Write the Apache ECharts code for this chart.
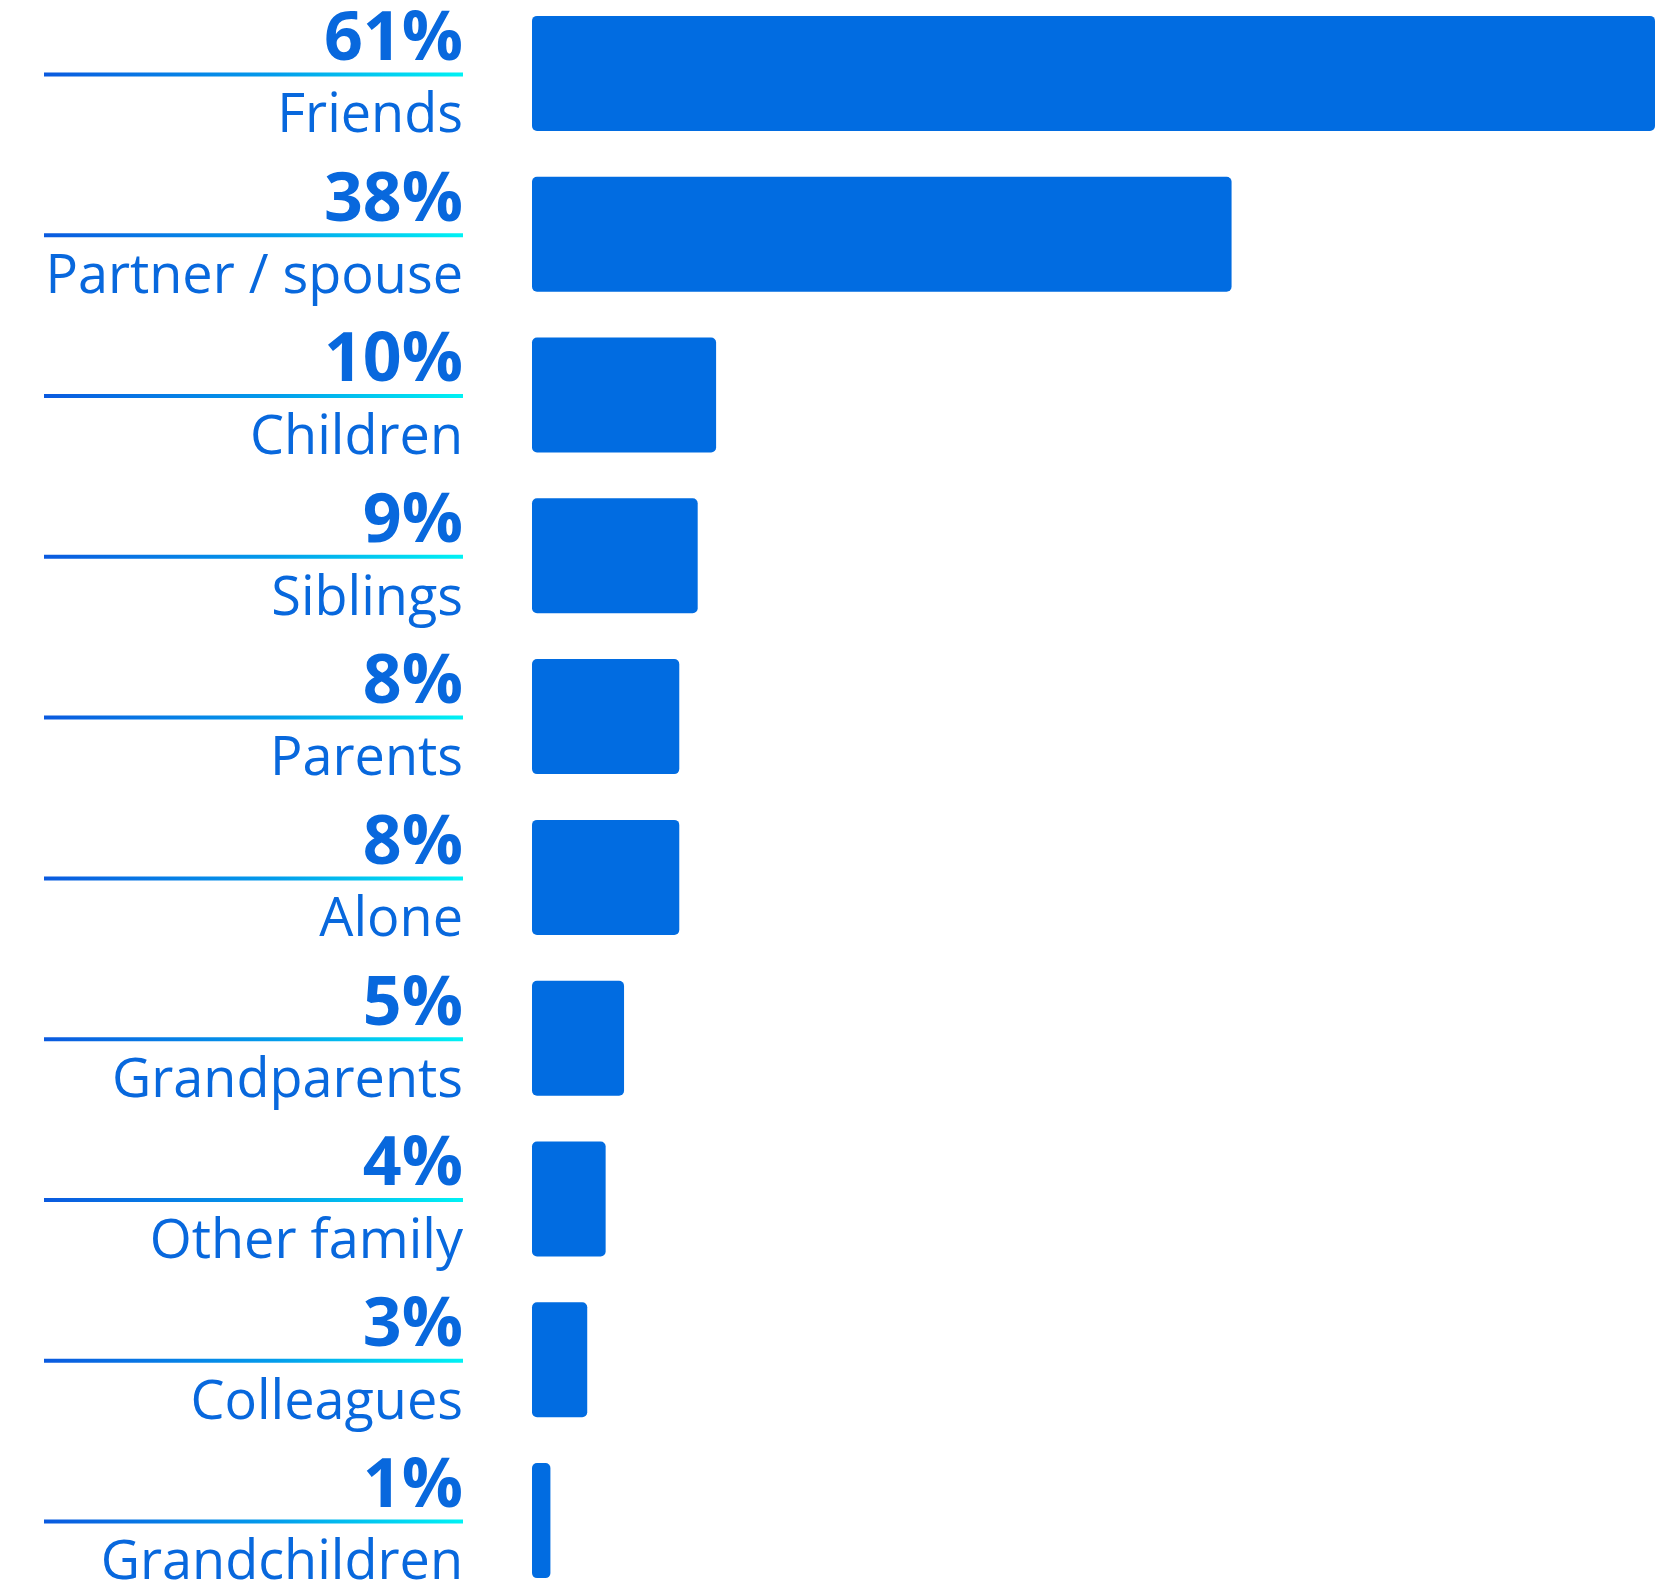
<!DOCTYPE html>
<html>
<head>
    <meta charset="UTF-8">
    <title>Who people live with</title>
    <script src="https://cdn.jsdelivr.net/npm/echarts@6/dist/echarts.min.js"></script>
</head>
<style>
    html, body { margin: 0; padding: 0; background: #fff; }
    #chart { width: 1666px; height: 1586px; }
</style>
<body>
<div id="chart"></div>
<script>
    // data
    var categories = ['Friends', 'Partner / spouse', 'Children', 'Siblings', 'Parents',
        'Alone', 'Grandparents', 'Other family', 'Colleagues', 'Grandchildren'];
    var percents = [61, 38, 10, 9, 8, 8, 5, 4, 3, 1];

    var barColor = '#016ce1';
    var textColor = '#0868dd';

    var myChart = echarts.init(document.getElementById('chart'));

    var lineFill = new echarts.graphic.LinearGradient(0, 0, 1, 0, [
        { offset: 0, color: '#0a5adf' },
        { offset: 0.55, color: '#039ceb' },
        { offset: 1, color: '#00f2f4' }
    ]);

    var option = {
        animation: false,
        grid: { left: 532, right: 11, top: -7, bottom: -15, outerBoundsMode: 'none' },
        xAxis: { type: 'value', min: 0, max: 61, show: false },
        yAxis: {
            type: 'category',
            inverse: true,
            data: categories,
            axisLine: { show: false },
            axisTick: { show: false },
            axisLabel: {
                margin: 69,
                align: 'right',
                formatter: function (name, idx) {
                    return '{p|' + percents[idx] + '%}\n{n|' + name + '}';
                },
                rich: {
                    p: { fontFamily: 'Open Sans', fontWeight: 'bold', fontSize: 68, lineHeight: 87, color: textColor, align: 'right' },
                    n: { fontFamily: 'Open Sans', fontSize: 54, lineHeight: 66, color: textColor, align: 'right' }
                }
            }
        },
        series: [
            {
                type: 'bar',
                data: percents,
                barWidth: 115,
                itemStyle: { color: barColor, borderRadius: 5 }
            },
            {
                // gradient rule between the percent and the label
                type: 'custom',
                silent: true,
                clip: false,
                data: categories.map(function (c, i) { return [0, i]; }),
                encode: { x: 0, y: 1 },
                renderItem: function (params, api) {
                    var y = api.coord([0, api.value(1)])[1];
                    return {
                        type: 'rect',
                        shape: { x: 44, y: y - 1, width: 419, height: 4 },
                        style: { fill: lineFill }
                    };
                }
            }
        ]
    };
    myChart.setOption(option);
</script>
</body>
</html>
